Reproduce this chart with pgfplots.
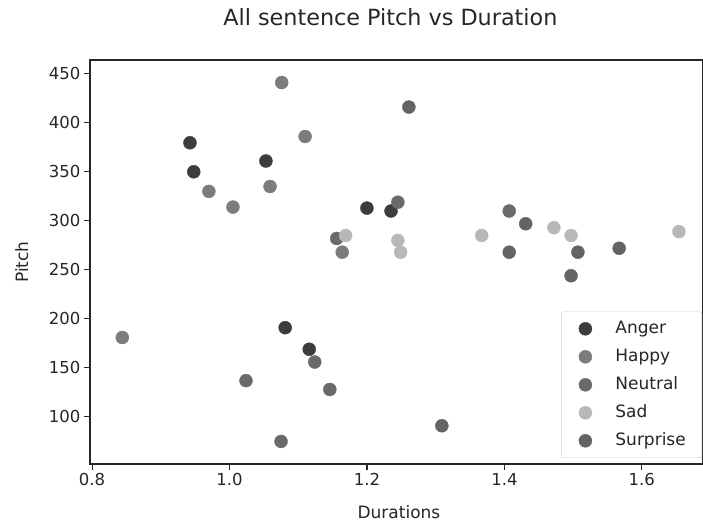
\documentclass[border=0pt]{standalone}
\usepackage{fontspec}
\setmainfont{DejaVu Sans}
\usepackage{pgfplots}
\pgfplotsset{compat=1.18}
\usetikzlibrary{calc}

\definecolor{cAnger}{HTML}{3C3C3C}
\definecolor{cHappy}{HTML}{7C7C7C}
\definecolor{cNeutral}{HTML}{6A6A6A}
\definecolor{cSad}{HTML}{B8B8B8}
\definecolor{cSurprise}{HTML}{646464}

\begin{document}
\begin{tikzpicture}
\begin{axis}[
  name=ax,
  scale only axis,
  width=613pt, height=404pt,
  xmin=0.797, xmax=1.689,
  ymin=52, ymax=464,
  xtick={0.8,1.0,1.2,1.4,1.6},
  ytick={100,150,...,450},
  xtick pos=bottom, ytick pos=left,
  tick align=outside,
  major tick length=6pt,
  tick style={black!85, line width=1.1pt},
  axis line style={black!85, line width=1.1pt},
  /pgf/number format/assume math mode=true,
  x tick label style={/pgf/number format/.cd, fixed, fixed zerofill, precision=1},
  ticklabel style={font=\fontsize{16.5}{19}\selectfont, text=black!85},
  xlabel={Durations}, ylabel={Pitch},
  label style={font=\fontsize{17}{20}\selectfont, text=black!85},
  xlabel style={at={(axis description cs:0.504,-0.134)}, anchor=base},
  ylabel style={at={(axis description cs:-0.101,0.5)}, anchor=base},
  title={All sentence Pitch vs Duration},
  title style={font=\fontsize{22.3}{26}\selectfont, text=black!85,
    at={(axis description cs:0.49,1.070)}, anchor=base},
  legend style={at={(1,0)}, anchor=south east, xshift=-1pt, yshift=6pt,
    draw=black!20, rounded corners=2pt, font=\fontsize{17}{20}\selectfont,
    text=black!85,
    row sep=12pt, inner xsep=14pt, inner ysep=9pt,
    nodes={inner ysep=0pt, text height=12.5pt, text depth=3.5pt}},
  legend image code/.code={
    \path[draw=none, fill=none] (0pt,-5pt) rectangle (38pt,5pt);
    \draw[#1] plot coordinates {(10pt,0pt)};},
  legend cell align=left,
  every axis plot/.append style={only marks, mark=*, mark size=6.5pt},
]
\addplot[mark options={draw=cAnger, fill=cAnger}] coordinates {
(0.9425,379.6) (0.948,350) (1.053,361) (1.200,313) (1.235,310) (1.081,191) (1.116,169)};
\addlegendentry{Anger}
\addplot[mark options={draw=cHappy, fill=cHappy}] coordinates {
(1.076,441) (1.110,386) (0.970,330) (1.005,314) (1.059,335) (1.164,268) (0.844,181)};
\addlegendentry{Happy}
\addplot[mark options={draw=cNeutral, fill=cNeutral}] coordinates {
(1.156,282) (1.245,319) (1.407,310) (1.024,137) (1.124,156) (1.146,128) (1.075,75)};
\addlegendentry{Neutral}
\addplot[mark options={draw=cSad, fill=cSad}] coordinates {
(1.169,285) (1.245,280) (1.249,268) (1.367,285) (1.472,293) (1.497,285) (1.654,289)};
\addlegendentry{Sad}
\addplot[mark options={draw=cSurprise, fill=cSurprise}] coordinates {
(1.261,416) (1.431,297) (1.407,268) (1.507,268) (1.567,272) (1.497,244) (1.309,91)};
\addlegendentry{Surprise}
\end{axis}
\pgfresetboundingbox
\path ($(ax.south west)+(-90pt,-58pt)$) rectangle ($(ax.north east)+(0pt,60pt)$);
\end{tikzpicture}
\end{document}
